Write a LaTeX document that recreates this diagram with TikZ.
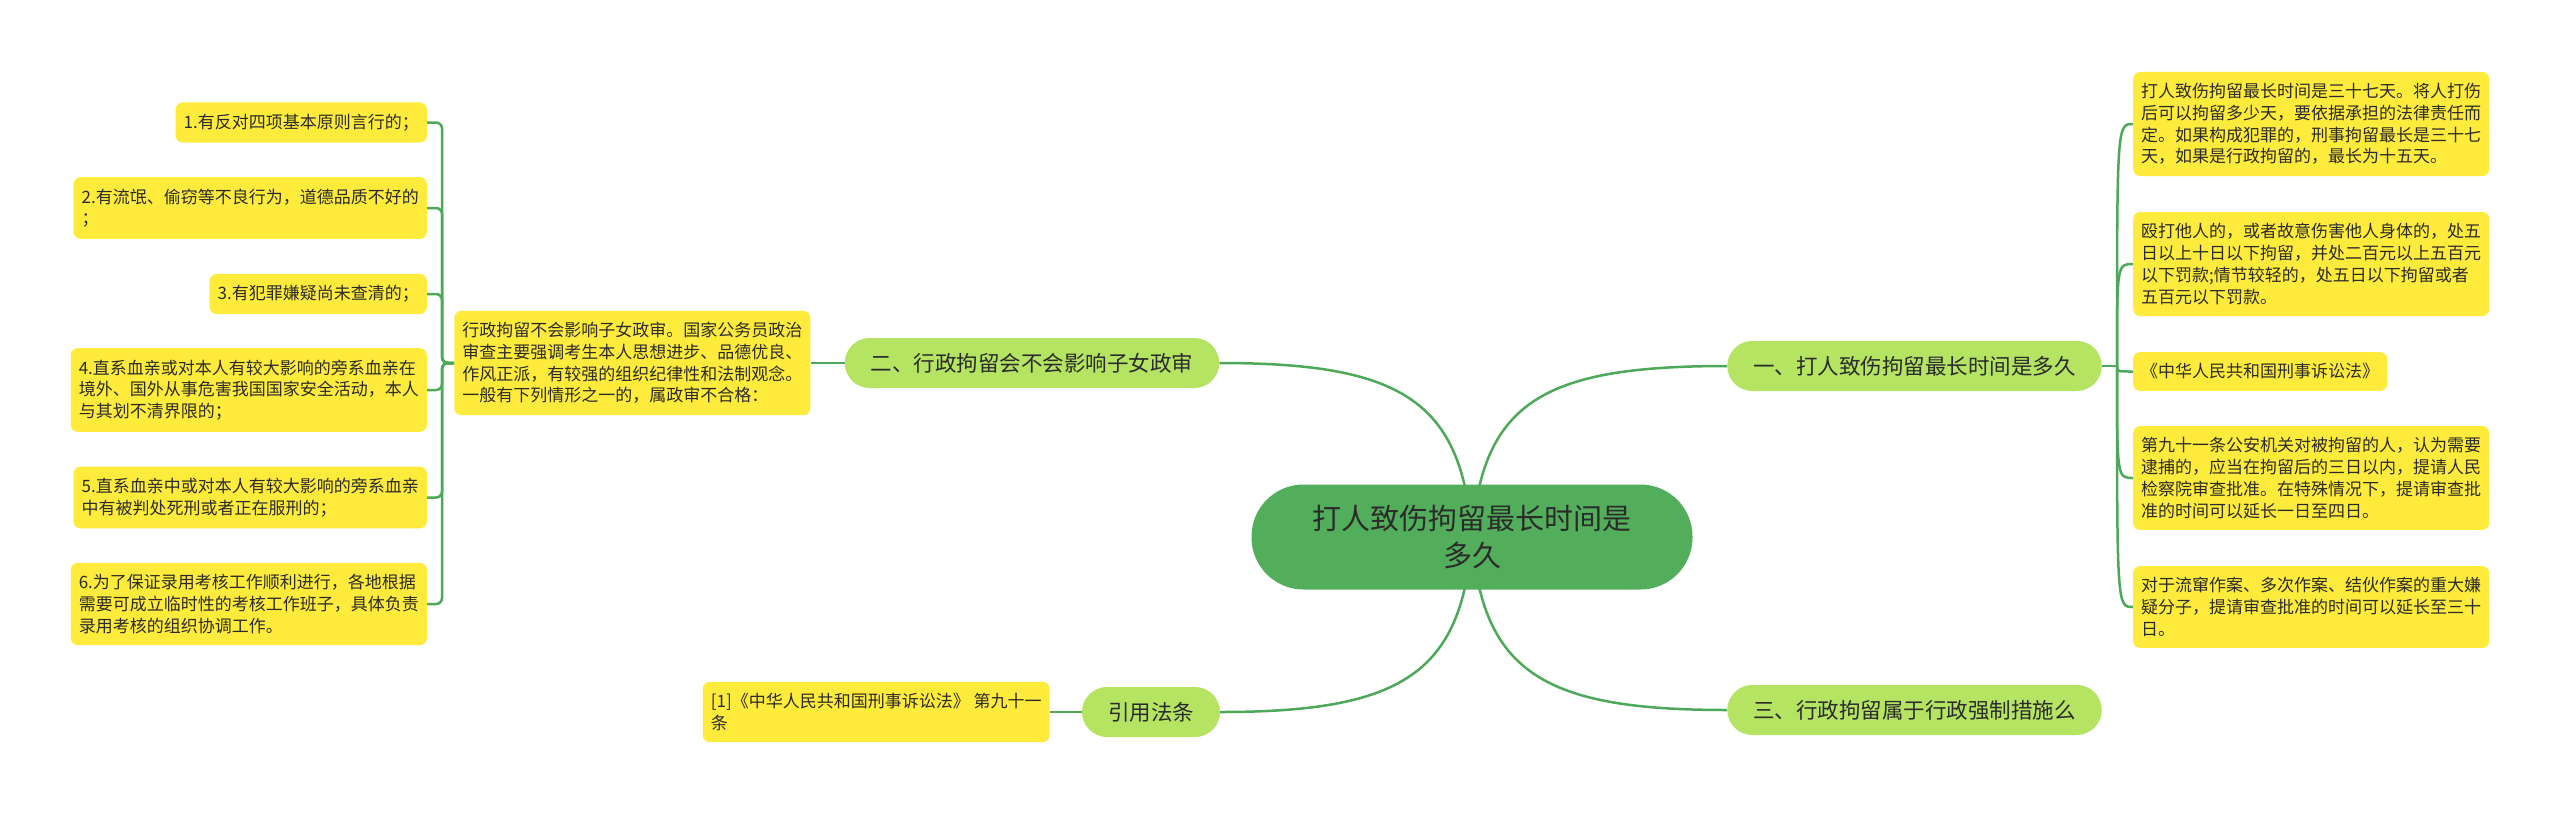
\documentclass[tikz,border=0pt]{standalone}
\usepackage{fontspec}
\setmainfont{Noto Sans CJK SC}
\usepackage{tikz}
\usetikzlibrary{positioning, backgrounds}
\definecolor{rootgreen}{HTML}{52AE5A}
\definecolor{topicgreen}{HTML}{B5E362}
\definecolor{leafyellow}{HTML}{FFEB3B}
\definecolor{linkgreen}{HTML}{4DA85A}
\definecolor{inkgray}{HTML}{2B2B2B}

\begin{document}
\begin{tikzpicture}[x=1pt, y=-1pt,
  rootnode/.style={fill=rootgreen, rounded corners=52pt, minimum width=441pt, minimum height=105pt,
    align=center, text=inkgray, font=\fontsize{29pt}{37pt}\selectfont},
  topicnode/.style={fill=topicgreen, rounded corners=25pt, minimum height=50pt, inner xsep=26pt,
    text=inkgray, font=\fontsize{21.5pt}{26pt}\selectfont},
  leafnode/.style={fill=leafyellow, rounded corners=7pt, inner xsep=8pt, inner ysep=11.5pt,
    align=left, text=inkgray, font=\fontsize{17pt}{21.7pt}\selectfont},
  conn/.style={draw=linkgreen, line width=2.5pt}]
  \useasboundingbox (0,0) rectangle (2560,815);

  \node[rootnode] (root) at (1472,537) {打人致伤拘留最长时间是\\多久};

  \node[topicnode] (b1) at (1914.5,366) {一、打人致伤拘留最长时间是多久};
  \node[topicnode] (b2) at (1032,363) {二、行政拘留会不会影响子女政审};
  \node[topicnode] (b3) at (1914.5,710) {三、行政拘留属于行政强制措施么};
  \node[topicnode] (cite) at (1151,712) {引用法条};

  \node[leafnode] (mid) [left=34pt of b2] {行政拘留不会影响子女政审。国家公务员政治\\审查主要强调考生本人思想进步、品德优良、\\作风正派，有较强的组织纪律性和法制观念。\\一般有下列情形之一的，属政审不合格：};
  \node[leafnode] (citebox) [left=32pt of cite] {[1]《中华人民共和国刑事诉讼法》 第九十一\\条};

  \node[leafnode, anchor=east] (l1) at (427,122.5) {1.有反对四项基本原则言行的；};
  \node[leafnode, anchor=east] (l2) at (427,208) {2.有流氓、偷窃等不良行为，道德品质不好的\\；};
  \node[leafnode, anchor=east] (l3) at (427,294) {3.有犯罪嫌疑尚未查清的；};
  \node[leafnode, anchor=east] (l4) at (427,390) {4.直系血亲或对本人有较大影响的旁系血亲在\\境外、国外从事危害我国国家安全活动，本人\\与其划不清界限的；};
  \node[leafnode, anchor=east] (l5) at (427,497.5) {5.直系血亲中或对本人有较大影响的旁系血亲\\中有被判处死刑或者正在服刑的；};
  \node[leafnode, anchor=east] (l6) at (427,604) {6.为了保证录用考核工作顺利进行，各地根据\\需要可成立临时性的考核工作班子，具体负责\\录用考核的组织协调工作。};

  \node[leafnode, anchor=west] (r1) at (2133,124) {打人致伤拘留最长时间是三十七天。将人打伤\\后可以拘留多少天，要依据承担的法律责任而\\定。如果构成犯罪的，刑事拘留最长是三十七\\天，如果是行政拘留的，最长为十五天。};
  \node[leafnode, anchor=west] (r2) at (2133,264) {殴打他人的，或者故意伤害他人身体的，处五\\日以上十日以下拘留，并处二百元以上五百元\\以下罚款;情节较轻的，处五日以下拘留或者\\五百元以下罚款。};
  \node[leafnode, anchor=west] (r3) at (2133,371.5) {《中华人民共和国刑事诉讼法》};
  \node[leafnode, anchor=west] (r4) at (2133,478) {第九十一条公安机关对被拘留的人，认为需要\\逮捕的，应当在拘留后的三日以内，提请人民\\检察院审查批准。在特殊情况下，提请审查批\\准的时间可以延长一日至四日。};
  \node[leafnode, anchor=west] (r5) at (2133,607) {对于流窜作案、多次作案、结伙作案的重大嫌\\疑分子，提请审查批准的时间可以延长至三十\\日。};

  \coordinate (ljoin) at (442,363);
  \coordinate (rjoin) at (2117,366);

  \begin{scope}[on background layer]
    \fill[white] (0,0) rectangle (2560,815);
    \draw[conn] (root.center) .. controls +(10,-137) and +(-181,0) .. (b1.west);
    \draw[conn] (root.center) .. controls +(-10,-137) and +(181,0) .. (b2.east);
    \draw[conn] (root.center) .. controls +(10,137) and +(-181,0) .. (b3.west);
    \draw[conn] (root.center) .. controls +(-10,137) and +(181,0) .. (cite.east);
    \draw[conn] (b2) -- (mid);
    \draw[conn] (cite) -- (citebox);
    \draw[conn, rounded corners=6pt] (mid.west) -- (ljoin) |- (l1.east);
    \draw[conn, rounded corners=6pt] (mid.west) -- (ljoin) |- (l2.east);
    \draw[conn, rounded corners=6pt] (mid.west) -- (ljoin) |- (l3.east);
    \draw[conn, rounded corners=6pt] (mid.west) -- (ljoin) |- (l4.east);
    \draw[conn, rounded corners=6pt] (mid.west) -- (ljoin) |- (l5.east);
    \draw[conn, rounded corners=6pt] (mid.west) -- (ljoin) |- (l6.east);
    \draw[conn] (b1.east) -- (rjoin);
    \draw[conn] (rjoin) .. controls (rjoin |- r1.west) .. (r1.west);
    \draw[conn] (rjoin) .. controls (rjoin |- r2.west) .. (r2.west);
    \draw[conn] (rjoin) .. controls (rjoin |- r3.west) .. (r3.west);
    \draw[conn] (rjoin) .. controls (rjoin |- r4.west) .. (r4.west);
    \draw[conn] (rjoin) .. controls (rjoin |- r5.west) .. (r5.west);
  \end{scope}
\end{tikzpicture}
\end{document}
